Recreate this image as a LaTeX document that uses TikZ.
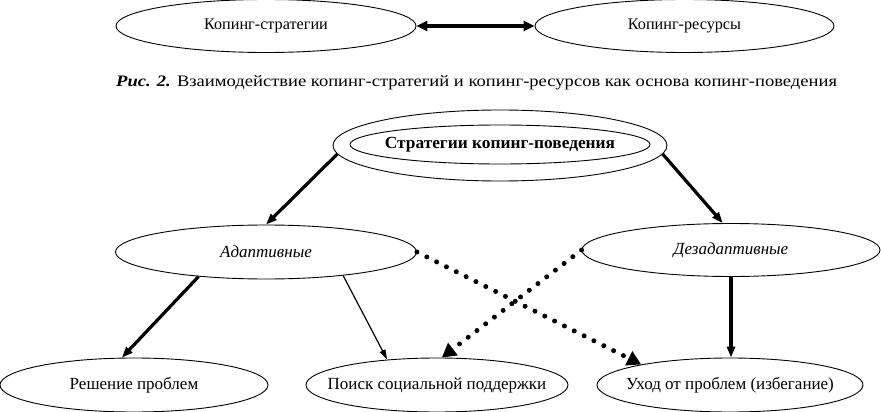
\documentclass[tikz,border=0pt]{standalone}
\usepackage{fontspec}
\setmainfont{Liberation Serif}
\usetikzlibrary{arrows.meta,shapes.geometric}
\newcommand\zbx[1]{\makebox[0pt]{#1}}
\begin{document}
\begin{tikzpicture}[x=1pt,y=-1pt,
  ell/.style={ellipse,draw,line width=0.9pt,inner sep=0pt,font=\fontsize{17}{20}\selectfont},
  thickarr/.style={line width=3.2pt,-{Triangle[length=11pt,width=8pt]}},
  thinarr/.style={line width=1.2pt,-{Triangle[length=10pt,width=6pt]}},
  dotarr/.style={line width=5pt,line cap=round,dash pattern=on 0pt off 11pt,-{Triangle[length=14pt,width=15pt]}},
  dblarr/.style={line width=3.8pt,{Triangle[length=11pt,width=10pt]}-{Triangle[length=11pt,width=10pt]}}
]
\useasboundingbox[fill=white] (0,0) rectangle (881,412);
% top pair
\node[ell,font=\fontsize{16.2}{19}\selectfont,minimum width=300pt,minimum height=53pt] (ks) at (266,26) {\zbx{Копинг-стратегии}};
\node[ell,font=\fontsize{16.2}{19}\selectfont,minimum width=299pt,minimum height=53pt] (kr) at (684.5,26) {\zbx{Копинг-ресурсы}};
\draw[dblarr] (ks.east) -- (kr.west);
% caption
\node[anchor=west,inner sep=0pt,font=\fontsize{16}{19}\selectfont] (cap) at (116,83)
  {\scalebox{1.16}[1]{\textbf{\textit{Рис. 2.}} Взаимодействие копинг-стратегий и копинг-ресурсов как основа копинг-поведения}};
% strategies
\node[ellipse,draw,line width=0.9pt,minimum width=334pt,minimum height=71pt,inner sep=0pt] (s) at (500,145.5) {};
\node[ell,minimum width=300pt,minimum height=39pt] (si) at (500,144.5) {\zbx{\scalebox{1.02}[1]{\textbf{Стратегии копинг-поведения}}}};
\node[ell,minimum width=301pt,minimum height=54pt] (a) at (266,252) {\zbx{\textit{Адаптивные}}};
\node[ell,minimum width=298pt,minimum height=53pt] (d) at (731,250) {\zbx{\textit{Дезадаптивные}}};
\node[ell,minimum width=268pt,minimum height=54pt] (r) at (134,385) {\zbx{Решение проблем}};
\node[ell,minimum width=262pt,minimum height=54pt] (p) at (437,385) {\zbx{Поиск социальной поддержки}};
\node[ell,minimum width=266pt,minimum height=54pt] (u) at (730,385) {\zbx{Уход от проблем (избегание)}};
% connectors
\draw[thickarr] (s.183) -- (a.north);
\draw[thickarr] (s.-3) -- (d.107);
\draw[thickarr] (a.200) -- (r.114);
\draw[thinarr] (a.-17) -- (p.153);
\draw[dotarr] (a.east) -- (u.167);
\draw[dotarr] (d.west) -- (p.80);
\draw[thickarr] (d.south) -- (d.south |- u.north);
\end{tikzpicture}
\end{document}
